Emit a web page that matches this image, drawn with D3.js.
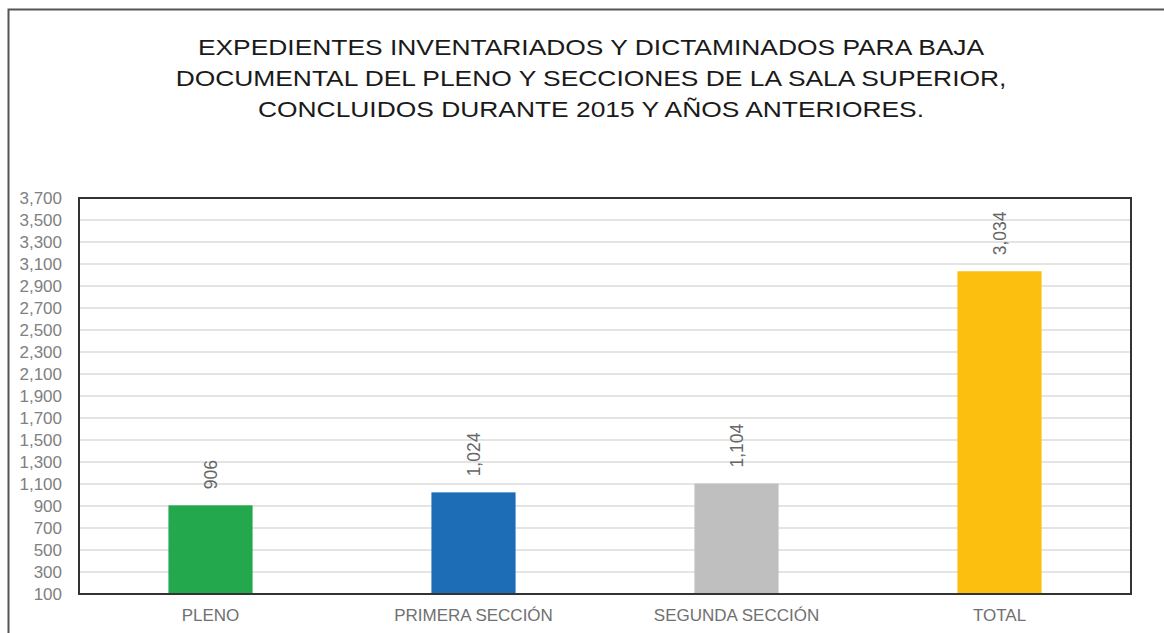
<!doctype html>
<html lang="es">
<head>
<meta charset="utf-8">
<title>Expedientes inventariados y dictaminados</title>
<script src="https://d3js.org/d3.v7.min.js"></script>
<style>
  body { margin: 0; background: #fff; }
  text { font-family: "Liberation Sans", Arial, sans-serif; }
</style>
</head>
<body>
<div id="chart"></div>
<script>
    // chart data
    const categories = ["PLENO", "PRIMERA SECCIÓN", "SEGUNDA SECCIÓN", "TOTAL"];
    const values = [906, 1024, 1104, 3034];
    const barColors = ["#23a84e", "#1c6db5", "#bfbfbf", "#fcbf0f"];
    const yTicks = d3.range(100, 3701, 200);
    const titleLines = [
        "EXPEDIENTES INVENTARIADOS Y DICTAMINADOS PARA BAJA",
        "DOCUMENTAL DEL PLENO Y SECCIONES DE LA SALA SUPERIOR,",
        "CONCLUIDOS DURANTE 2015 Y AÑOS ANTERIORES."
    ];

    const width = 1164;
    const height = 633;
    const margin = {top: 198, right: 33, bottom: 39, left: 79};

    const svg = d3.select("#chart").append("svg")
        .attr("width", width)
        .attr("height", height);

    // outer frame (top and left edges visible)
    svg.append("path")
        .attr("d", "M8.5," + height + "V9.5H" + width)
        .attr("fill", "none")
        .attr("stroke", "#555")
        .attr("stroke-width", 2);

    // title (source text is a bit wider than the font, stretch it)
    svg.append("g")
        .attr("transform", "translate(591,0) scale(1.2,1)")
        .selectAll("text")
        .data(titleLines)
        .enter()
        .append("text")
        .attr("x", 0)
        .attr("y", (d, i) => 55 + i * 31)
        .attr("text-anchor", "middle")
        .attr("font-size", "22px")
        .attr("fill", "#1a1a1a")
        .text(d => d);

    var x = d3.scaleBand()
        .domain(categories)
        .range([margin.left, width - margin.right])
        .paddingInner(0.68)
        .paddingOuter(0.34);

    var y = d3.scaleLinear()
        .domain([100, 3700])
        .range([height - margin.bottom, margin.top]);

    // gridlines
    svg.append("g")
        .selectAll("line")
        .data(yTicks.slice(1))
        .enter()
        .append("line")
        .attr("x1", margin.left)
        .attr("x2", width - margin.right)
        .attr("y1", d => y(d))
        .attr("y2", d => y(d))
        .attr("stroke", "#e4e4e4")
        .attr("stroke-width", 2);

    // y axis labels
    const yAxis = svg.append("g")
        .attr("transform", "translate(" + (margin.left - 17) + ",0)")
        .call(d3.axisLeft(y).tickValues(yTicks).tickFormat(d3.format(",")).tickSize(0).tickPadding(0));
    yAxis.select(".domain").remove();
    yAxis.selectAll("text")
        .attr("font-size", "17px")
        .attr("font-family", "Liberation Sans, Arial, sans-serif")
        .attr("fill", "#808080");

    // bars
    svg.append("g")
        .selectAll("rect")
        .data(values)
        .enter()
        .append("rect")
        .attr("x", (d, i) => x(categories[i]))
        .attr("width", x.bandwidth())
        .attr("y", d => y(d))
        .attr("height", d => y(100) - y(d))
        .attr("fill", (d, i) => barColors[i]);

    // value labels, rotated
    svg.append("g")
        .selectAll("text")
        .data(values)
        .enter()
        .append("text")
        .attr("transform", (d, i) => "translate(" + (x(categories[i]) + x.bandwidth() / 2 + 6) + "," + (y(d) - 16) + ") rotate(-90)")
        .attr("font-size", "17.5px")
        .attr("fill", "#666")
        .text(d => d3.format(",")(d));

    // category labels
    const xAxis = svg.append("g")
        .attr("transform", "translate(0," + (height - margin.bottom) + ")")
        .call(d3.axisBottom(x).tickSize(0).tickPadding(15));
    xAxis.select(".domain").remove();
    xAxis.selectAll("text")
        .attr("font-size", "17px")
        .attr("font-family", "Liberation Sans, Arial, sans-serif")
        .attr("fill", "#707070");

    // plot frame
    svg.append("rect")
        .attr("x", margin.left)
        .attr("y", margin.top)
        .attr("width", width - margin.left - margin.right)
        .attr("height", height - margin.top - margin.bottom)
        .attr("fill", "none")
        .attr("stroke", "#333")
        .attr("stroke-width", 2);
</script>
</body>
</html>
